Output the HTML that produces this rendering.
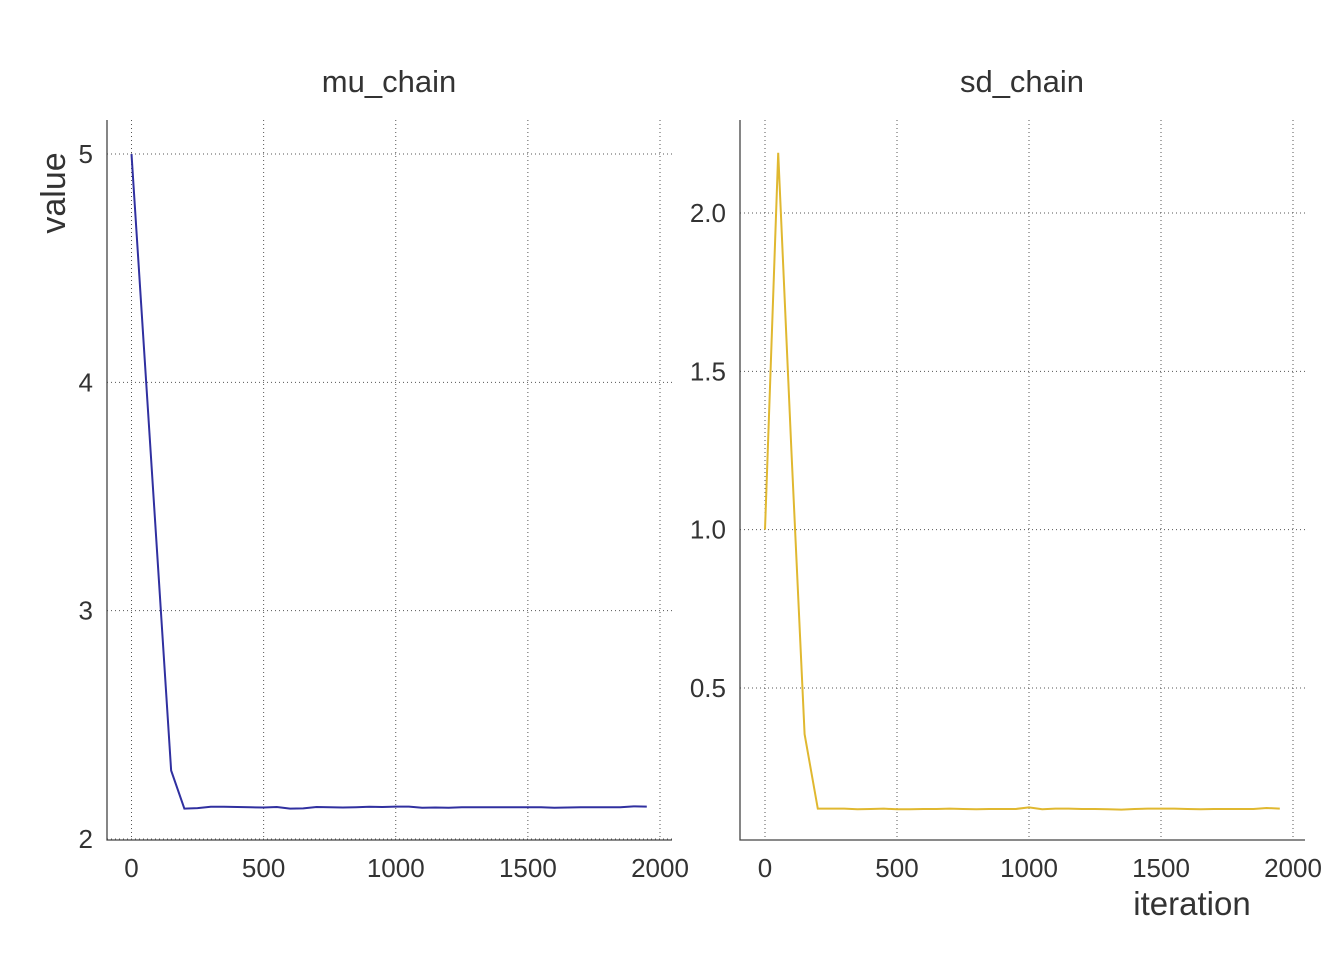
<!DOCTYPE html>
<html><head><meta charset="utf-8"><style>
body{margin:0;background:#fff}
svg text{font-family:"Liberation Sans",Arial,sans-serif;fill:#333}
</style></head><body>
<svg id="c" width="1344" height="960" xmlns="http://www.w3.org/2000/svg"></svg>
<script>
const iterations=[0,50,100,150,200,250,300,350,400,450,500,550,600,650,700,750,800,850,900,950,1000,1050,1100,1150,1200,1250,1300,1350,1400,1450,1500,1550,1600,1650,1700,1750,1800,1850,1900,1950];
const muValues=[5,4.1,3.2,2.3,2.133,2.135,2.141,2.141,2.140,2.139,2.138,2.140,2.133,2.134,2.140,2.139,2.138,2.139,2.141,2.140,2.142,2.142,2.137,2.138,2.137,2.139,2.139,2.139,2.139,2.139,2.139,2.139,2.137,2.138,2.139,2.139,2.139,2.139,2.143,2.142];
const sdValues=[1.0,2.19,1.25,0.354,0.119,0.119,0.119,0.117,0.118,0.119,0.117,0.117,0.118,0.118,0.119,0.118,0.117,0.118,0.118,0.118,0.123,0.117,0.119,0.119,0.118,0.118,0.117,0.116,0.118,0.119,0.119,0.119,0.118,0.117,0.118,0.118,0.118,0.118,0.121,0.119];
const xTicks=[0,500,1000,1500,2000];
const muTicks=[2,3,4,5];
const sdTicks=[0.5,1.0,1.5,2.0];
const sdTickLabels=["0.5","1.0","1.5","2.0"];
const svg=document.getElementById('c');
const NS='http://www.w3.org/2000/svg';
function mk(tag,attrs,parent){const e=document.createElementNS(NS,tag);for(const k in attrs)e.setAttribute(k,attrs[k]);(parent||svg).appendChild(e);return e;}
function panel(p){
  const g=mk('g',{});
  
  
  const xs=v=>p.x0+(v-0)*(p.x1-p.x0)/2000;
  const ys=v=>p.y0+(v-p.v0)*(p.y1-p.y0)/(p.v1-p.v0);
  xTicks.forEach(t=>{
    const l=mk('line',{x1:xs(t),x2:xs(t),y1:120,y2:840,stroke:'#555','stroke-width':1,'stroke-dasharray':'1,3'},g);
    
    
    const tx=mk('text',{x:xs(t),y:877,'font-size':26,'text-anchor':'middle'},g);
    tx.textContent=t;
    
    
  });
  p.ticks.forEach((t,i)=>{
    const l=mk('line',{x1:p.ax,x2:p.ax+565,y1:ys(t),y2:ys(t),stroke:'#555','stroke-width':1,'stroke-dasharray':'1,3'},g);
    
    
    const tx=mk('text',{x:p.ax-14,y:ys(t)+9,'font-size':26,'text-anchor':'end'},g);
    tx.textContent=p.labels[i];
    
    
  });
  const ax=mk('polyline',{points:`${p.ax},120 ${p.ax},840 ${p.ax+565},840`,fill:'none',stroke:'#444','stroke-width':1.3},g);
  
  
  const pts=iterations.map((it,i)=>xs(it)+','+ys(p.vals[i])).join(' ');
  const ln=mk('polyline',{points:pts,fill:'none',stroke:p.color,'stroke-width':2},g);
  
  
  const ti=mk('text',{x:p.tx,y:92,'font-size':31,'text-anchor':'middle'},g);
  ti.textContent=p.name;
  
  
}
panel({name:'mu_chain',x0:131.5,x1:660,ax:107,y0:839,y1:154,v0:2,v1:5,ticks:muTicks,labels:muTicks.map(String),vals:muValues,color:'#3030a0',tx:389});
panel({name:'sd_chain',x0:765,x1:1293,ax:740,y0:688,y1:213,v0:0.5,v1:2.0,ticks:sdTicks,labels:sdTickLabels,vals:sdValues,color:'#e0b830',tx:1022});
const yl=mk('text',{x:0,y:0,'font-size':34,'text-anchor':'middle',transform:'translate(65,193) rotate(-90)'});
yl.textContent='value';


const xl=mk('text',{x:1192,y:915,'font-size':33,'text-anchor':'middle'});
xl.textContent='iteration';


</script>
</body></html>
